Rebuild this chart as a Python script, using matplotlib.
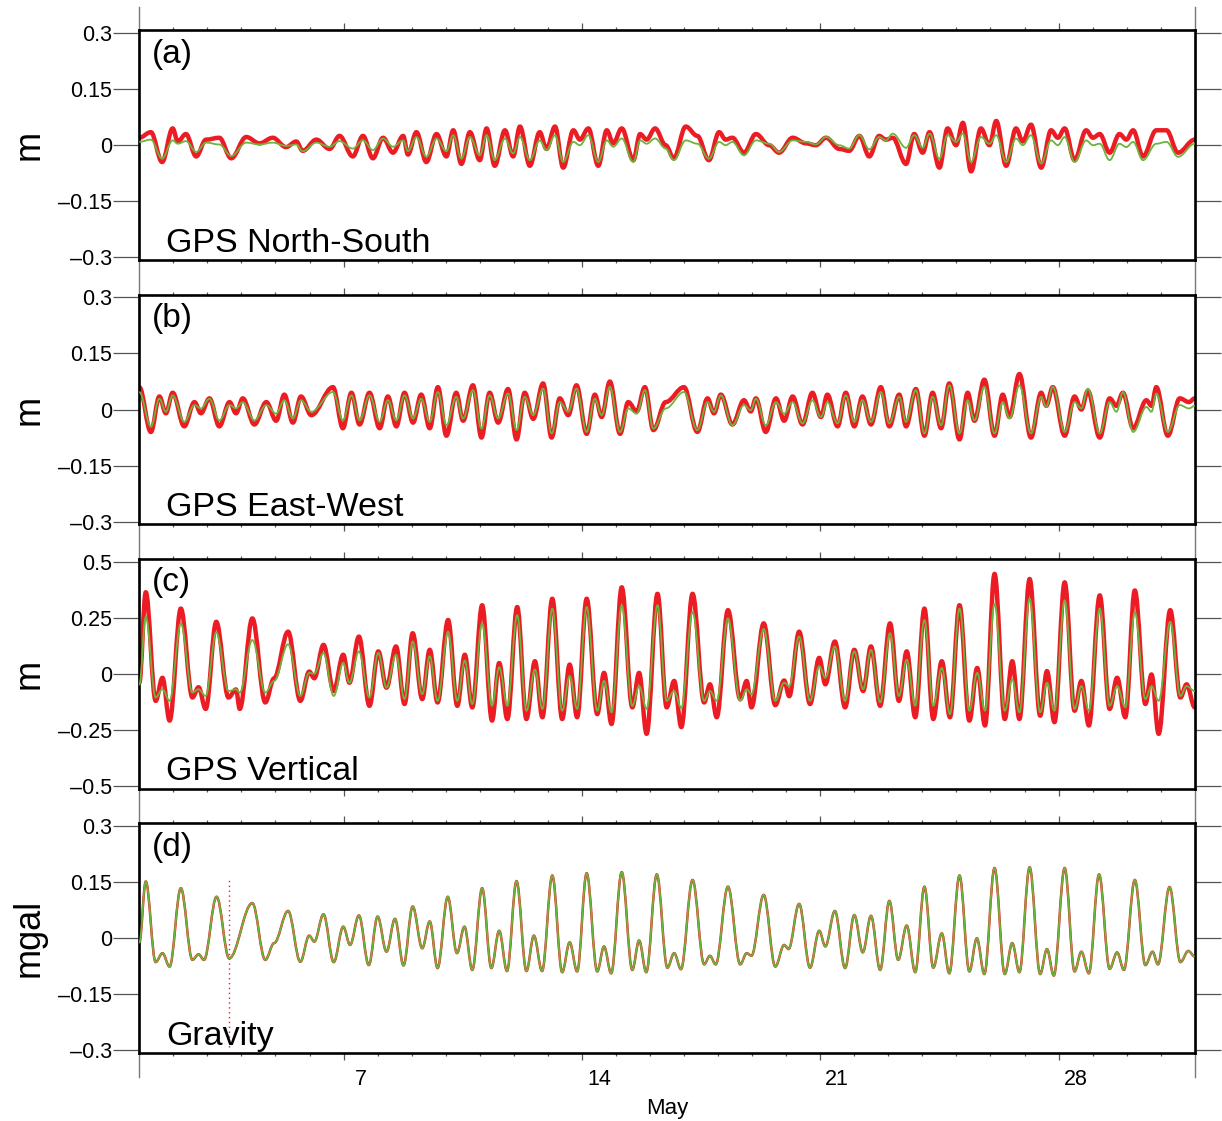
import numpy as np
import matplotlib
matplotlib.use("Agg")
import matplotlib.pyplot as plt
from matplotlib.path import Path
from matplotlib.patches import PathPatch
from matplotlib.lines import Line2D
from matplotlib.transforms import blended_transform_factory

plt.rcParams['font.family'] = ['Liberation Sans', 'DejaVu Sans']

# ---- data: turning points of each trace (day of May, value) ----
# (a) GPS North-South, m
ns_day = [1.00, 1.34, 1.67, 1.98, 2.13, 2.37, 2.67, 2.96, 3.35, 3.70, 4.14, 4.53, 4.92, 5.31, 5.61,
          5.80, 6.20, 6.59, 6.88, 7.27, 7.57, 7.86, 8.16, 8.45, 8.75, 8.89, 9.14, 9.43, 9.73, 10.02,
          10.22, 10.46, 10.71, 11.00, 11.20, 11.44, 11.74, 11.98, 12.18, 12.47, 12.76, 12.96, 13.21,
          13.45, 13.75, 13.94, 14.19, 14.48, 14.73, 14.92, 15.17, 15.51, 15.71, 15.90, 16.15, 16.46,
          16.70, 17.05, 17.39, 17.73, 18.03, 18.22, 18.42, 18.76, 19.11, 19.50, 19.79, 20.19, 20.58,
          20.87, 21.17, 21.56, 21.85, 22.15, 22.44, 22.73, 22.93, 23.13, 23.52, 23.76, 24.01, 24.21,
          24.50, 24.74, 24.99, 25.19, 25.43, 25.72, 25.97, 26.17, 26.46, 26.75, 26.95, 27.19, 27.49,
          27.78, 27.98, 28.18, 28.47, 28.81, 29.01, 29.21, 29.50, 29.79, 29.99, 30.19, 30.48, 30.87,
          31.17, 31.51, 32.00]
ns_model = [0.009, 0.015, -0.036, 0.013, 0.004, 0.011, -0.018, 0.007, 0.002, -0.029, 0.007, 0.002,
            0.007, -0.002, 0.002, -0.016, 0.007, -0.004, 0.011, -0.009, 0.013, -0.013, 0.018, -0.004,
            0.013, -0.016, 0.022, -0.031, 0.018, -0.016, 0.027, -0.036, 0.022, -0.027, 0.027, -0.040,
            0.018, -0.022, 0.022, -0.040, 0.013, -0.013, 0.027, -0.045, 0.009, 0.000, 0.027, -0.045,
            0.013, -0.004, 0.018, -0.045, 0.013, 0.004, 0.018, -0.009, -0.040, 0.013, 0.004, -0.036,
            0.009, 0.000, 0.009, -0.027, 0.013, 0.004, -0.018, 0.013, 0.009, 0.002, 0.022, 0.000,
            -0.009, 0.027, -0.011, 0.022, 0.013, 0.031, -0.007, 0.027, -0.007, 0.031, -0.036, 0.027,
            0.009, 0.031, -0.045, 0.022, 0.004, 0.027, -0.045, 0.018, 0.000, 0.027, -0.049, 0.013,
            0.000, 0.022, -0.045, 0.013, 0.000, 0.004, -0.040, 0.004, -0.005, 0.009, -0.040, 0.004,
            0.009, -0.031, 0.004]
ns_obs = [0.020, 0.035, -0.045, 0.045, 0.010, 0.030, -0.030, 0.015, 0.020, -0.035, 0.022, 0.005,
          0.020, -0.005, 0.010, -0.015, 0.015, -0.010, 0.025, -0.030, 0.025, -0.035, 0.020, -0.020,
          0.025, -0.025, 0.035, -0.045, 0.030, -0.030, 0.040, -0.050, 0.035, -0.040, 0.045, -0.055,
          0.040, -0.030, 0.050, -0.055, 0.035, -0.010, 0.050, -0.060, 0.040, 0.015, 0.045, -0.055,
          0.040, 0.005, 0.045, -0.040, 0.030, 0.015, 0.045, 0.000, -0.035, 0.050, 0.025, -0.040,
          0.035, 0.015, 0.020, -0.020, 0.030, 0.000, -0.020, 0.020, 0.005, 0.000, 0.020, -0.010,
          -0.015, 0.025, -0.030, 0.025, 0.015, 0.020, -0.050, 0.030, -0.020, 0.035, -0.060, 0.045,
          0.000, 0.060, -0.070, 0.045, 0.000, 0.065, -0.055, 0.045, 0.010, 0.055, -0.060, 0.040,
          0.020, 0.045, -0.040, 0.040, 0.020, 0.030, -0.020, 0.030, 0.015, 0.040, -0.030, 0.040,
          0.040, -0.020, 0.015]

# (b) GPS East-West, m
ew_day = [1.00, 1.34, 1.59, 1.78, 1.98, 2.32, 2.62, 2.81, 3.06, 3.35, 3.65, 3.84, 4.04, 4.38, 4.73,
          5.02, 5.26, 5.51, 5.75, 6.05, 6.69, 6.98, 7.23, 7.47, 7.76, 8.06, 8.30, 8.55, 8.79, 9.04,
          9.28, 9.53, 9.77, 10.02, 10.31, 10.51, 10.80, 11.05, 11.29, 11.54, 11.83, 12.08, 12.32,
          12.57, 12.86, 13.11, 13.35, 13.60, 13.84, 14.14, 14.38, 14.58, 14.82, 15.12, 15.36, 15.61,
          15.85, 16.10, 16.46, 17.00, 17.39, 17.69, 17.88, 18.08, 18.42, 18.76, 18.96, 19.11, 19.40,
          19.70, 19.94, 20.19, 20.48, 20.77, 21.02, 21.21, 21.51, 21.75, 22.00, 22.24, 22.49, 22.78,
          23.03, 23.32, 23.52, 23.81, 24.06, 24.30, 24.55, 24.79, 25.09, 25.33, 25.53, 25.82, 26.12,
          26.36, 26.56, 26.85, 27.19, 27.49, 27.64, 27.83, 28.18, 28.47, 28.67, 28.86, 29.21, 29.50,
          29.70, 29.89, 30.19, 30.58, 30.73, 30.87, 31.21, 31.56, 31.83, 32.00]
ew_model = [0.047, -0.046, 0.029, -0.006, 0.038, -0.033, 0.012, 0.003, 0.029, -0.029, 0.012, 0.003,
            0.020, -0.029, 0.012, -0.011, 0.025, -0.024, 0.025, -0.006, 0.047, -0.029, 0.038, -0.029,
            0.038, -0.033, 0.025, -0.029, 0.038, -0.024, 0.029, -0.033, 0.047, -0.042, 0.034, -0.024,
            0.052, -0.051, 0.038, -0.024, 0.043, -0.055, 0.034, -0.015, 0.056, -0.064, 0.020, -0.006,
            0.056, -0.060, 0.029, -0.015, 0.061, -0.060, 0.003, -0.011, 0.052, -0.051, 0.003, 0.047,
            -0.055, 0.020, -0.006, 0.038, -0.042, 0.012, -0.002, 0.029, -0.042, 0.020, -0.011, 0.020,
            -0.037, 0.025, -0.020, 0.020, -0.037, 0.038, -0.033, 0.025, -0.033, 0.047, -0.037, 0.034,
            -0.033, 0.052, -0.064, 0.034, -0.042, 0.065, -0.064, 0.025, -0.029, 0.061, -0.064, 0.020,
            -0.024, 0.065, -0.064, 0.034, 0.007, 0.061, -0.060, 0.020, 0.003, 0.056, -0.064, 0.020,
            -0.006, 0.047, -0.060, 0.007, -0.006, 0.043, -0.060, 0.012, 0.003, 0.010]
ew_obs = [0.060, -0.060, 0.035, -0.010, 0.045, -0.045, 0.020, -0.010, 0.030, -0.045, 0.020, -0.010,
          0.030, -0.040, 0.020, -0.030, 0.040, -0.035, 0.035, -0.015, 0.060, -0.050, 0.045, -0.040,
          0.045, -0.050, 0.035, -0.045, 0.045, -0.035, 0.040, -0.050, 0.060, -0.070, 0.045, -0.030,
          0.065, -0.075, 0.045, -0.035, 0.055, -0.080, 0.045, -0.025, 0.070, -0.075, 0.030, -0.015,
          0.065, -0.065, 0.040, -0.020, 0.075, -0.065, 0.020, -0.005, 0.060, -0.055, 0.020, 0.060,
          -0.060, 0.030, -0.010, 0.040, -0.040, 0.025, -0.005, 0.030, -0.060, 0.030, -0.030, 0.035,
          -0.040, 0.045, -0.020, 0.040, -0.045, 0.045, -0.045, 0.035, -0.040, 0.060, -0.045, 0.040,
          -0.045, 0.055, -0.070, 0.045, -0.050, 0.070, -0.080, 0.045, -0.030, 0.080, -0.070, 0.040,
          -0.020, 0.095, -0.075, 0.045, 0.010, 0.060, -0.070, 0.035, 0.000, 0.050, -0.075, 0.030,
          0.010, 0.045, -0.050, 0.025, 0.010, 0.060, -0.070, 0.030, 0.020, 0.030]

# (c) GPS Vertical, m
up_day = [1.00, 1.19, 1.48, 1.68, 1.89, 2.22, 2.56, 2.74, 2.95, 3.26, 3.62, 3.84, 3.95, 4.32, 4.70,
          4.96, 5.37, 5.73, 5.99, 6.14, 6.41, 6.71, 6.99, 7.17, 7.45, 7.76, 8.02, 8.26, 8.54, 8.79,
          9.03, 9.31, 9.53, 9.76, 10.07, 10.34, 10.56, 10.78, 11.07, 11.36, 11.57, 11.81, 12.10,
          12.37, 12.62, 12.84, 13.13, 13.42, 13.64, 13.86, 14.14, 14.45, 14.65, 14.87, 15.17, 15.48,
          15.68, 15.90, 16.22, 16.49, 16.71, 16.92, 17.25, 17.59, 17.76, 17.96, 18.29, 18.65, 18.84,
          18.98, 19.34, 19.68, 19.94, 20.09, 20.38, 20.70, 20.97, 21.15, 21.43, 21.73, 22.00, 22.26,
          22.49, 22.76, 23.05, 23.31, 23.54, 23.79, 24.06, 24.32, 24.57, 24.81, 25.09, 25.38, 25.61,
          25.84, 26.12, 26.42, 26.64, 26.85, 27.15, 27.46, 27.66, 27.88, 28.18, 28.47, 28.67, 28.89,
          29.21, 29.50, 29.72, 29.96, 30.24, 30.55, 30.73, 30.94, 31.28, 31.58, 31.76, 32.00]
up_model = [-0.050, 0.254, -0.106, -0.069, -0.121, 0.225, -0.084, -0.069, -0.099, 0.185, -0.077,
            -0.069, -0.084, 0.151, -0.084, -0.032, 0.132, -0.099, 0.004, 0.000, 0.093, -0.099, 0.049,
            -0.040, 0.100, -0.106, 0.093, -0.062, 0.085, -0.113, 0.144, -0.091, 0.078, -0.121, 0.188,
            -0.121, 0.059, -0.135, 0.225, -0.143, 0.029, -0.143, 0.262, -0.165, 0.019, -0.157, 0.291,
            -0.165, -0.010, -0.157, 0.298, -0.165, -0.032, -0.172, 0.306, -0.143, -0.055, -0.157,
            0.306, -0.121, -0.077, -0.153, 0.276, -0.121, -0.077, -0.121, 0.247, -0.121, -0.069,
            -0.091, 0.200, -0.121, -0.040, -0.055, 0.166, -0.121, 0.034, -0.018, 0.122, -0.121, 0.100,
            -0.069, 0.107, -0.128, 0.181, -0.099, 0.063, -0.143, 0.240, -0.143, 0.026, -0.180, 0.291,
            -0.165, 0.004, -0.165, 0.313, -0.165, -0.025, -0.172, 0.335, -0.172, -0.040, -0.165,
            0.328, -0.157, -0.055, -0.165, 0.291, -0.143, -0.055, -0.150, 0.276, -0.113, -0.055,
            -0.121, 0.232, -0.099, -0.055, -0.077]
up_obs = [-0.040, 0.364, -0.121, -0.018, -0.209, 0.291, -0.106, -0.060, -0.157, 0.232, -0.106,
          -0.070, -0.157, 0.247, -0.128, -0.020, 0.188, -0.121, 0.010, -0.020, 0.129, -0.077, 0.085,
          -0.040, 0.166, -0.143, 0.100, -0.062, 0.122, -0.135, 0.181, -0.113, 0.107, -0.128, 0.240,
          -0.143, 0.085, -0.150, 0.306, -0.209, 0.048, -0.202, 0.298, -0.202, 0.056, -0.194, 0.335,
          -0.202, 0.041, -0.194, 0.335, -0.180, 0.004, -0.224, 0.386, -0.150, 0.004, -0.268, 0.357,
          -0.150, -0.032, -0.238, 0.357, -0.128, -0.047, -0.194, 0.284, -0.113, -0.032, -0.150,
          0.225, -0.140, -0.030, -0.100, 0.188, -0.135, 0.071, -0.047, 0.144, -0.150, 0.107, -0.077,
          0.122, -0.143, 0.225, -0.121, 0.100, -0.194, 0.291, -0.202, 0.056, -0.194, 0.306, -0.209,
          0.026, -0.231, 0.446, -0.202, 0.056, -0.202, 0.423, -0.187, 0.012, -0.216, 0.408, -0.165,
          -0.032, -0.231, 0.350, -0.157, -0.018, -0.194, 0.372, -0.135, -0.003, -0.268, 0.284,
          -0.106, -0.047, -0.150]

# (d) Gravity, mgal (observed and model overlap within a pixel)
grav_day = [1.00, 1.19, 1.48, 1.68, 1.89, 2.22, 2.56, 2.74, 2.90, 3.27, 3.64, 4.32, 4.70, 4.96, 5.37,
            5.73, 5.99, 6.14, 6.41, 6.71, 6.99, 7.19, 7.45, 7.74, 8.00, 8.26, 8.51, 8.76, 9.03, 9.31,
            9.53, 9.76, 10.06, 10.33, 10.55, 10.78, 11.07, 11.34, 11.57, 11.80, 12.08, 12.37, 12.59,
            12.83, 13.13, 13.42, 13.64, 13.86, 14.14, 14.45, 14.65, 14.86, 15.17, 15.48, 15.68, 15.89,
            16.20, 16.51, 16.71, 16.91, 17.25, 17.59, 17.76, 17.93, 18.29, 18.65, 18.84, 18.98, 19.34,
            19.68, 19.94, 20.07, 20.38, 20.70, 20.97, 21.15, 21.43, 21.73, 22.00, 22.25, 22.49, 22.76,
            23.03, 23.29, 23.54, 23.79, 24.06, 24.32, 24.57, 24.79, 25.09, 25.38, 25.60, 25.82, 26.12,
            26.42, 26.64, 26.85, 27.15, 27.46, 27.66, 27.86, 28.18, 28.47, 28.67, 28.89, 29.19, 29.50,
            29.72, 29.92, 30.24, 30.55, 30.76, 30.92, 31.26, 31.58, 31.81, 32.00]
grav_model = [-0.013, 0.152, -0.064, -0.040, -0.076, 0.134, -0.058, -0.043, -0.058, 0.111, -0.054,
              0.094, -0.058, -0.013, 0.073, -0.063, 0.007, -0.009, 0.064, -0.064, 0.031, -0.018,
              0.061, -0.072, 0.058, -0.036, 0.052, -0.073, 0.085, -0.027, 0.045, -0.080, 0.111,
              -0.040, 0.031, -0.085, 0.134, -0.080, 0.020, -0.088, 0.153, -0.088, 0.007, -0.088,
              0.168, -0.091, -0.011, -0.089, 0.174, -0.089, -0.022, -0.094, 0.177, -0.085, -0.006,
              -0.091, 0.171, -0.079, -0.040, -0.083, 0.156, -0.070, -0.047, -0.070, 0.138, -0.070,
              -0.040, -0.047, 0.116, -0.076, -0.018, -0.029, 0.092, -0.079, 0.020, -0.022, 0.073,
              -0.080, 0.062, -0.038, 0.060, -0.085, 0.100, -0.058, 0.034, -0.091, 0.138, -0.079,
              0.013, -0.094, 0.168, -0.089, 0.000, -0.096, 0.188, -0.096, -0.013, -0.091, 0.190,
              -0.096, -0.029, -0.100, 0.188, -0.089, -0.036, -0.094, 0.171, -0.082, -0.038, -0.085,
              0.156, -0.072, -0.036, -0.070, 0.137, -0.064, -0.034, -0.049]
grav_obs = grav_model
# spurious gravity readings on 3 May
glitch_day = 3.62
glitch_range = [-0.29, 0.16]

panels = [
    ("(a)", "GPS North-South", "m", ns_day, ns_obs, ns_model, 0.307, [-0.3, -0.15, 0, 0.15, 0.3]),
    ("(b)", "GPS East-West", "m", ew_day, ew_obs, ew_model, 0.307, [-0.3, -0.15, 0, 0.15, 0.3]),
    ("(c)", "GPS Vertical", "m", up_day, up_obs, up_model, 0.512, [-0.5, -0.25, 0, 0.25, 0.5]),
    ("(d)", "Gravity", "mgal", grav_day, grav_obs, grav_model, 0.307, [-0.3, -0.15, 0, 0.15, 0.3]),
]
major_days = [7, 14, 21, 28]

RED = "#ec1c24"
GREEN = "#6cb43c"
TICK = "#555555"


def tide_path(x, y):
    # smooth curve through turning points (flat tangents), drawn by matplotlib's bezier path
    verts = [(x[0], y[0])]
    codes = [Path.MOVETO]
    for i in range(1, len(x)):
        dx = (x[i] - x[i - 1]) * 0.36
        verts += [(x[i - 1] + dx, y[i - 1]), (x[i] - dx, y[i]), (x[i], y[i])]
        codes += [Path.CURVE4] * 3
    return Path(verts, codes)


def fmt(v):
    if v == 0:
        return "0"
    s = ("%g" % abs(v))
    return ("\u2013" + s) if v < 0 else s


fig = plt.figure(figsize=(12.22, 11.21), dpi=100)
left, width, height = 0.1140, 0.8637, 0.2047
bottoms = [0.7681, 0.5323, 0.2966, 0.0607]

for k, (tag, title, unit, day, obs, model, lim, yt) in enumerate(panels):
    ax = fig.add_axes([left, bottoms[k], width, height])
    red_lw = 1.8 if k == 3 else 3.2
    ax.add_patch(PathPatch(tide_path(day, obs), fill=False, edgecolor=RED, lw=red_lw,
                           joinstyle="round", capstyle="round", zorder=2))
    ax.add_patch(PathPatch(tide_path(day, model), fill=False, edgecolor=GREEN, lw=1.3,
                           joinstyle="round", zorder=3))
    if k == 3:
        ax.vlines(glitch_day, glitch_range[0], glitch_range[1], color=RED, lw=1.0,
                  linestyles=(0, (1, 2.5)), zorder=2)
    ax.set_xlim(1, 32)
    ax.set_ylim(-lim, lim)

    for s in ax.spines.values():
        s.set_linewidth(1.9)
        s.set_color("black")

    ax.set_yticks(yt)
    ax.set_yticklabels([fmt(v) for v in yt])
    ax.tick_params(axis="y", which="major", direction="out", length=18.5, width=0.9,
                   color=TICK, left=True, right=True, labelsize=15.5, pad=1)
    ax.set_xticks(major_days)
    ax.set_xticks(range(2, 32), minor=True)
    ax.tick_params(axis="x", which="major", direction="out", length=5.2, width=0.9,
                   color=TICK, top=True, bottom=True, labelbottom=False)
    ax.tick_params(axis="x", which="minor", direction="out", length=2.2, width=0.9,
                   color=TICK, top=True, bottom=True)

    ax.set_ylabel(unit, fontsize=26, labelpad=0)
    ax.yaxis.set_label_coords(-0.088, 0.5)
    ax.text(0.012, 0.896, tag, transform=ax.transAxes, fontsize=24, va="center", ha="left")
    ax.text(0.0255, 0.036, title, transform=ax.transAxes, fontsize=24.5, va="baseline", ha="left")

    if k == 3:
        tr = blended_transform_factory(ax.transData, ax.transAxes)
        for d in major_days:
            ax.text(d + 0.5, -0.072, str(d), transform=tr, fontsize=15.5, ha="center", va="top")
        ax.text(0.5, -0.24, "May", transform=ax.transAxes, fontsize=16, ha="center", va="center")

# gray frame lines running through the gaps between panels
for xf in (left, left + width):
    fig.add_artist(Line2D([xf, xf], [1 - 7 / 1121, 1 - 1077 / 1121], transform=fig.transFigure,
                          color="#777777", lw=1.0, zorder=0))

fig.savefig("out.png", dpi=100)
